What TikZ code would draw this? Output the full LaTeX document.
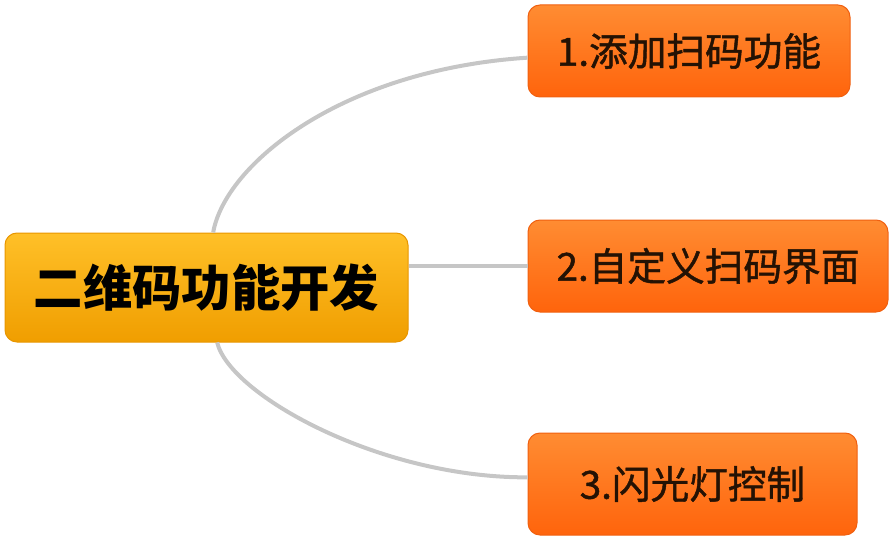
\documentclass[tikz,border=0pt]{standalone}
\usepackage{fontspec}
\newfontfamily\cjk{Noto Sans CJK SC}
\newfontfamily\cjkmed[FakeBold=1.2]{Noto Sans CJK SC}
\usepackage{tikz}

\definecolor{rootTop}{RGB}{255,192,40}
\definecolor{rootBot}{RGB}{240,158,0}
\definecolor{rootLine}{RGB}{232,150,0}
\definecolor{itemTop}{RGB}{255,140,50}
\definecolor{itemBot}{RGB}{255,100,12}
\definecolor{itemLine}{RGB}{240,96,16}
\definecolor{itemText}{RGB}{36,18,4}
\definecolor{linkGray}{RGB}{198,198,198}

\tikzset{
  rootbox/.style={draw=rootLine, line width=0.75, rounded corners=9pt, top color=rootTop, bottom color=rootBot, inner sep=0pt, anchor=center, font=\cjk\bfseries\fontsize{37}{42}\selectfont, text=black},
  itembox/.style={draw=itemLine, line width=0.75, rounded corners=9pt, top color=itemTop, bottom color=itemBot, inner sep=0pt, anchor=center, minimum height=69pt, font=\cjkmed\fontsize{29}{34}\selectfont, text=itemText},
  link/.style={draw=linkGray, line width=3pt}
}

\begin{document}
\begin{tikzpicture}[x=0.75pt,y=0.75pt,yscale=-1,xscale=1]
\useasboundingbox (0,0) rectangle (889,542); %set diagram to the size of the reference

%Shape: Rounded Rectangle
\node (root) [rootbox, minimum width=302.25pt, minimum height=81.75pt] at (206.5,287.5) {二维码功能开发};
%Shape: Rounded Rectangle
\node (add) [itembox, minimum width=241.5pt] at (689,51) {1.添加扫码功能};
%Shape: Rounded Rectangle
\node (custom) [itembox, minimum width=270pt] at (708,266) {2.自定义扫码界面};
%Shape: Rounded Rectangle
\node (flash) [itembox, minimum width=246.75pt, minimum height=76.5pt] at (692.5,484) {3.闪光灯控制};

%Curve Lines
\draw [link] ([xshift=5pt]root.north) .. controls (225,165) and (340,70) .. ([yshift=5pt]add.west) ;
%Straight Lines
\draw [link] (root.east |- custom.west) -- (custom.west) ;
%Curve Lines
\draw [link] ([xshift=8pt]root.south) .. controls (230,395) and (380,478) .. ([yshift=-5pt]flash.west) ;

\end{tikzpicture}
\end{document}
